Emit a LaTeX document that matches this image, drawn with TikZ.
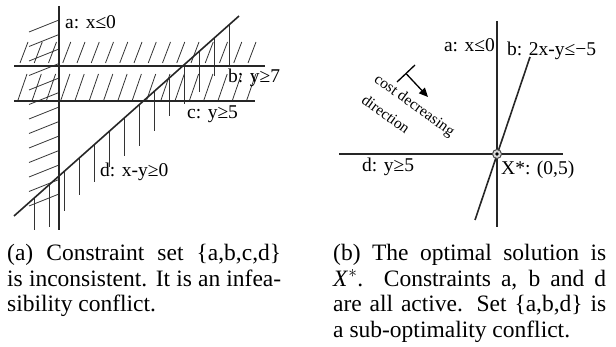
\documentclass[tikz,border=0pt]{standalone}
\usepackage{fontspec}
\setmainfont{Liberation Serif}
\usetikzlibrary{arrows.meta}
\begin{document}
\begin{tikzpicture}[x=1pt,y=-1pt,
  mainline/.style={line width=1.6pt, draw=black!85},
  hatchline/.style={line width=0.8pt, draw=black!80},
  lbl/.style={font=\fontsize{19.5}{23}\selectfont, inner sep=0pt},
  costlbl/.style={font=\fontsize{15.5}{18}\selectfont, inner sep=0pt, rotate=-36},
  captext/.style={font=\fontsize{23.5}{25.5}\selectfont, inner sep=0pt, anchor=base west}]
\useasboundingbox (0,0) rectangle (616,347);

% ---------- panel (a) ----------
\coordinate (aTop) at (59,6);   \coordinate (aBot) at (59,230);
\coordinate (bL) at (14,66);    \coordinate (bR) at (265,66);
\coordinate (cL) at (14,101);   \coordinate (cR) at (255,101);
\coordinate (dL) at (14,216);   \coordinate (dR) at (239,16);

% hatching left of a
\foreach \k in {0,...,12}
  \draw[hatchline] (29,{32+14.5*\k}) -- (59,{20+14.5*\k});
% band hatching
\foreach \k in {0,...,16}
  \draw[hatchline] ({20+14.25*\k},63) -- ({28+14.25*\k},42);
\foreach \k in {0,...,16}
  \draw[hatchline] ({18+14.3*\k},100) -- ({27+14.3*\k},74);
% vertical hatching under d
\foreach \x/\b in {34/230,49/227,64/211,79/195,94/182,109/167,124/156,139/146,154/131,169/116,184/104,199/92,214/76,229/67}
  \draw[hatchline] (\x,{216-0.8889*(\x-14)}) -- (\x,\b);

\draw[mainline] (aTop) -- (aBot);
\draw[mainline] (bL) -- (bR);
\draw[mainline] (cL) -- (cR);
\draw[mainline] (dL) -- (dR);

\node[lbl, anchor=west] (la) at (65,22) {a: x≤0};
\node[lbl, anchor=west] (lb) at (228,78) {b: y≥7};
\node[lbl, anchor=west] (lc) at (187,114) {c: y≥5};
\node[lbl, anchor=west] (ld) at (100,172) {d: x-y≥0};

% ---------- panel (b) ----------
\coordinate (paTop) at (497,21);  \coordinate (paBot) at (497,227);
\coordinate (pdL) at (339,154);   \coordinate (pdR) at (563,154);
\coordinate (pbBot) at (475,220); \coordinate (pbTop) at (530,57);

\draw[mainline] (paTop) -- (paBot);
\draw[mainline] (pdL) -- (pdR);
\draw[mainline] (pbBot) -- (pbTop);
\node[circle, draw=black!70, fill=black!15, line width=1pt, minimum size=9pt, inner sep=0pt] (xs) at (497,154) {};
\fill (xs.center) circle (1.8);

\node[lbl, anchor=east] (pla) at (495,45) {a: x≤0};
\node[lbl, anchor=west] (plb) at (507,51) {b: 2x-y≤−5};
\node[lbl, anchor=west] (pld) at (362,167) {d: y≥5};
\node[lbl, anchor=west] (plx) at (501,170) {X*: (0,5)};

\coordinate (tb1) at (397,82); \coordinate (tb2) at (415,65);
\coordinate (ts) at (406,73.5); \coordinate (tt) at (428,97);
\draw[line width=1.3pt] (tb1) -- (tb2);
\draw[line width=1.3pt, -{Triangle[length=9pt,width=8pt]}] (ts) -- (tt);
\node[costlbl] (cost) at (414,106) {cost decreasing};
\node[costlbl] (dir) at (386,114) {direction};

% ---------- captions ----------
\node[captext] (ca1) at (7,261) {\makebox[274pt][s]{(a) Constraint set \{a,b,c,d\}}};
\node[captext] (ca2) at (7,286.5) {\makebox[274pt][s]{is inconsistent. It is an infea-}};
\node[captext] (ca3) at (7,312) {sibility conflict.};
\node[captext] (cb1) at (333,261) {\makebox[273pt][s]{(b) The optimal solution is}};
\node[captext] (cb2) at (333,286.5) {\makebox[273pt][s]{\textit{X}$^{*}$. Constraints a, b and d}};
\node[captext] (cb3) at (333,312) {\makebox[273pt][s]{are all active. Set \{a,b,d\} is}};
\node[captext] (cb4) at (333,337.5) {a sub-optimality conflict.};
\end{tikzpicture}
\end{document}
